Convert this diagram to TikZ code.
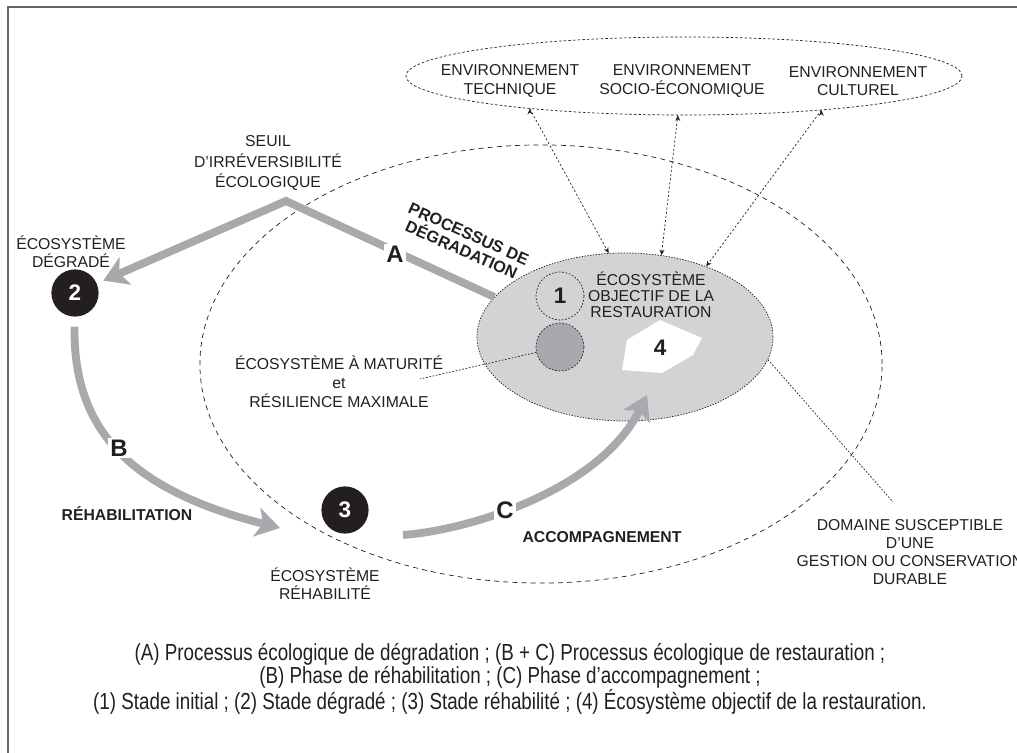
\documentclass[tikz,border=0pt]{standalone}
\usepackage{fontspec}
\setmainfont{Liberation Sans}
\newfontfamily\narrowfont[FakeStretch=0.81]{Liberation Sans}
\usetikzlibrary{shapes.geometric,arrows.meta}
\definecolor{arrowgrey}{HTML}{A7A9AC}
\definecolor{zonegrey}{HTML}{D1D3D4}
\definecolor{inkblack}{HTML}{231F20}

\begin{document}
\begin{tikzpicture}[x=0.025cm,y=-0.025cm]
	\tikzstyle{caps}=[align=center,text=inkblack,inner sep=0pt,font=\fontsize{11.2}{13}\selectfont]
	\tikzstyle{boldcaps}=[caps,font=\bfseries\fontsize{11.2}{12.5}\selectfont]
	\tikzstyle{letter}=[fill=white,inner sep=1.5pt,text=inkblack,font=\bfseries\fontsize{17}{17}\selectfont]
	\tikzstyle{stage}=[circle,fill=inkblack,text=white,inner sep=0pt,minimum size=1.18cm,font=\bfseries\fontsize{16}{16}\selectfont]
	\tikzstyle{ring}=[circle,draw=inkblack,line width=0.5pt,dash pattern=on 1.2pt off 1.2pt,inner sep=0pt,minimum size=1.2cm,text=inkblack,font=\bfseries\fontsize{16}{16}\selectfont]
	\tikzstyle{zone}=[ellipse,draw=inkblack,line width=0.5pt,inner sep=0pt]
	\tikzstyle{flow}=[draw=arrowgrey,line width=5.6pt,-{Stealth[length=17pt,width=21pt,inset=4.5pt]}]
	\tikzstyle{link}=[draw=inkblack,line width=0.5pt,dash pattern=on 1.5pt off 1.5pt,-{Stealth[length=4pt,width=3.5pt]}]
	\tikzstyle{pointer}=[draw=inkblack,line width=0.5pt,dash pattern=on 1.2pt off 1.2pt]
	\clip (0,0) rectangle (1017,753);
	\draw[draw=gray!80!black,line width=0.8pt] (8,800) -- (8,7) -- (1100,7);
	% zones
	\node [zone,dash pattern=on 1.8pt off 1.5pt,minimum width=13.9cm,minimum height=1.95cm] (envzone) at (684,76) {};
	\node [zone,dash pattern=on 3.5pt off 3pt,minimum width=17.05cm,minimum height=10.95cm] (domain) at (541,364) {};
	\node [zone,fill=zonegrey,dash pattern=on 1pt off 1pt,minimum width=7.4cm,minimum height=4.2cm] (target) at (625,337) {};
	\node [ring] (s1) at (560,296) {1};
	\node [ring,fill=arrowgrey] (s0) at (560,347) {};
	\fill[white] (627,340) -- (660,320) -- (702,338) -- (693,355) -- (662,373) -- (622,370) -- cycle;
	\node [caps,font=\bfseries\fontsize{16}{16}\selectfont] (s4) at (660,348) {4};
	\node [caps,font=\fontsize{11.2}{11.5}\selectfont] (goal) at (651,295) {ÉCOSYSTÈME\\OBJECTIF DE LA\\RESTAURATION};
	% environnements
	\node [caps] (env1) at (510,81) {ENVIRONNEMENT\\TECHNIQUE};
	\node [caps] (env2) at (682,81) {ENVIRONNEMENT\\SOCIO-ÉCONOMIQUE};
	\node [caps] (env3) at (858,81) {ENVIRONNEMENT\\CULTUREL};
	\path[link] (envzone.192) edge (target.101);
	\path[link] (envzone.261) edge (target.66);
	\path[link] (envzone.-14) edge (target.41);
	% stades
	\node [stage] (n2) at (75,293) {2};
	\node [stage] (n3) at (345,510) {3};
	\node [caps] (lbl2) at (71,252) {ÉCOSYSTÈME\\DÉGRADÉ};
	\node [caps] (lbl3) at (325,584) {ÉCOSYSTÈME\\RÉHABILITÉ};
	\node [caps,font=\fontsize{11.2}{14.5}\selectfont] (seuil) at (268,163) {SEUIL\\D’IRRÉVERSIBILITÉ\\ÉCOLOGIQUE};
	% fleches
	\coordinate (sill) at (286,201);
	\coordinate (tipB) at (280,528);
	\coordinate (startC) at (403,535);
	\coordinate (tipC) at (647,395);
	\path[flow,shorten >=5pt] (target.163) -- (sill) -- (n2);
	\path[flow,shorten <=7pt] (n2) .. controls (73,430) and (130,490) .. (tipB);
	\path[flow] (startC) .. controls (470,530) and (600,490) .. (tipC);
	\node [letter] (lblA) at (395,254) {A};
	\node [letter] (lblB) at (119,448) {B};
	\node [letter] (lblC) at (505,510) {C};
	\node [boldcaps,font=\bfseries\fontsize{11.6}{12.5}\selectfont,rotate=-24] (degr) at (465,242) {PROCESSUS DE\\DÉGRADATION};
	\node [boldcaps] (rehab) at (127,514) {RÉHABILITATION};
	\node [boldcaps] (accomp) at (602,537) {ACCOMPAGNEMENT};
	% renvois
	\node [caps,font=\fontsize{11.2}{13.5}\selectfont] (lblmat) at (339,382) {ÉCOSYSTÈME À MATURITÉ\\et\\RÉSILIENCE MAXIMALE};
	\coordinate (matend) at (420,379);
	\path[pointer] (s0) edge (matend);
	\node [caps] (lbldom) at (910,552) {DOMAINE SUSCEPTIBLE\\D’UNE\\GESTION OU CONSERVATION\\DURABLE};
	\coordinate (domend) at (893,502);
	\path[pointer] (target.-9) edge (domend);
	% legende
	\node [align=center,text=inkblack,font=\narrowfont\fontsize{16.5}{16.3}\selectfont] (legend) at (510,679) {(A) Processus écologique de dégradation ; (B + C) Processus écologique de restauration ;\\(B) Phase de réhabilitation ; (C) Phase d’accompagnement ;\\(1) Stade initial ; (2) Stade dégradé ; (3) Stade réhabilité ; (4) Écosystème objectif de la restauration.};
\end{tikzpicture}
\end{document}
